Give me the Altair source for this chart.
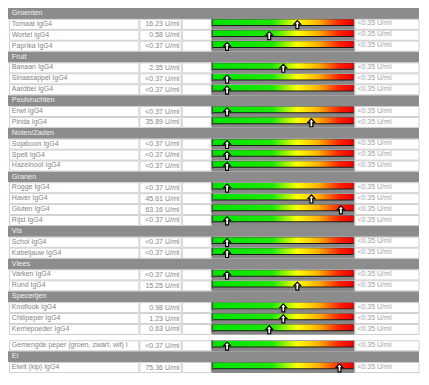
import altair as alt
import pandas as pd

# ---- data ----
group_names = ["Groenten", "Fruit", "Peulvruchten", "Noten/Zaden", "Granen",
               "Vis", "Vlees", "Specerijen", "", "Ei"]
group_sizes = [3, 3, 2, 3, 4, 2, 2, 3, 1, 1]
item_labels = ["Tomaat IgG4", "Wortel IgG4", "Paprika IgG4",
               "Banaan IgG4", "Sinaasappel IgG4", "Aardbei IgG4",
               "Erwt IgG4", "Pinda IgG4",
               "Sojaboon IgG4", "Spelt IgG4", "Hazelnoot IgG4",
               "Rogge IgG4", "Haver IgG4", "Gluten IgG4", "Rijst IgG4",
               "Schol IgG4", "Kabeljauw IgG4",
               "Varken IgG4", "Rund IgG4",
               "Knoflook IgG4", "Chilipeper IgG4", "Kerriepoeder IgG4",
               "Gemengde peper (groen, zwart, wit) I",
               "Eiwit (kip) IgG4"]
item_values = ["16.23 U/ml", "0.58 U/ml", "<0.37 U/ml",
               "2.35 U/ml", "<0.37 U/ml", "<0.37 U/ml",
               "<0.37 U/ml", "35.89 U/ml",
               "<0.37 U/ml", "<0.37 U/ml", "<0.37 U/ml",
               "<0.37 U/ml", "45.61 U/ml", "63.16 U/ml", "<0.37 U/ml",
               "<0.37 U/ml", "<0.37 U/ml",
               "<0.37 U/ml", "15.25 U/ml",
               "0.98 U/ml", "1.23 U/ml", "0.63 U/ml",
               "<0.37 U/ml",
               "75.36 U/ml"]
# pointer position on the colour bar (0 = left end, 100 = right end)
item_levels = [60, 40, 10,
               50, 10, 10,
               10, 70,
               10, 10, 10,
               10, 70, 91, 10,
               10, 10,
               10, 60,
               50, 50, 40,
               10,
               90]
ref_values = ["<0.35 U/ml"] * len(item_labels)

# ---- build table rows ----
headers, items = [], []
pos = 0.0
k = 0
for g, n in zip(group_names, group_sizes):
    if g:
        headers.append({"label": g, "top": pos})
        pos += 1
    else:
        pos += 0.5
    for _ in range(n):
        items.append({"label": item_labels[k], "value": item_values[k],
                      "level": item_levels[k], "ref": ref_values[k], "top": pos})
        pos += 1
        k += 1
TOTAL = pos

hdf = pd.DataFrame(headers)
idf = pd.DataFrame(items)

W, H = 411, 365
REFW = 427
XS = alt.Scale(domain=[0, REFW])
YS = alt.Scale(domain=[0, TOTAL], reverse=True)
FONT = "Liberation Sans"

def xd(v):
    return alt.XDatum(v, scale=XS, axis=None)

def x2d(v):
    return alt.X2Datum(v)

base_h = alt.Chart(hdf)
base_i = alt.Chart(idf)

header_rect = base_h.mark_rect(fill="#8c8c8c").transform_calculate(
    bot="datum.top + 1").encode(
    x=xd(0), x2=x2d(REFW),
    y=alt.Y("top:Q", scale=YS, axis=None), y2="bot:Q")

header_text = base_h.mark_text(align="left", baseline="middle", font=FONT,
                               fontSize=7.3, color="#f2f2f2").transform_calculate(
    mid="datum.top + 0.47").encode(
    x=xd(4), y=alt.Y("mid:Q", scale=YS, axis=None), text="label:N")

def cell(x0, x1, fill="white", stroke="#cfcfcf"):
    return base_i.mark_rect(fill=fill, stroke=stroke, strokeWidth=1).transform_calculate(
        t="datum.top + 0.04", b="datum.top + 0.96").encode(
        x=xd(x0), x2=x2d(x1),
        y=alt.Y("t:Q", scale=YS, axis=None), y2="b:Q")

name_cell = cell(1.5, 136)
value_cell = cell(137, 180)
blank_cell = cell(181, 211)
ref_cell = cell(360.5, 427)

bar_bg = base_i.mark_rect(fill="#888888").transform_calculate(
    bot="datum.top + 1").encode(
    x=xd(211.5), x2=x2d(360),
    y=alt.Y("top:Q", scale=YS, axis=None), y2="bot:Q")

bar_edge = base_i.mark_rect(fill="#4a4a4a").transform_calculate(
    t="datum.top", b="datum.top + 0.75").encode(
    x=xd(211.5), x2=x2d(213),
    y=alt.Y("t:Q", scale=YS, axis=None), y2="b:Q")

# colour bar and pointer use their own scale: 0..100 across the bar
r0, r1 = 213 * W / REFW, 359 * W / REFW
LS = alt.Scale(domain=[0, 100], range=[r0, r1])

grad = alt.LinearGradient(
    gradient="linear", x1=0, x2=1, y1=0, y2=0,
    stops=[alt.GradientStop(offset=0, color="#00e400"),
           alt.GradientStop(offset=0.42, color="#1ee800"),
           alt.GradientStop(offset=0.60, color="#ffff00"),
           alt.GradientStop(offset=0.75, color="#ffb000"),
           alt.GradientStop(offset=0.90, color="#ff2000"),
           alt.GradientStop(offset=1.0, color="#ee0000")])

bar_line = base_i.mark_rect(fill="#1a1a1a").transform_calculate(
    t="datum.top + 0.06", b="datum.top + 0.66").encode(
    x=alt.XDatum(0, scale=LS, axis=None), x2=alt.X2Datum(100),
    y=alt.Y("t:Q", scale=YS, axis=None), y2="b:Q")

bar_grad = base_i.mark_rect(fill=grad).transform_calculate(
    t="datum.top + 0.06", b="datum.top + 0.57").encode(
    x=alt.XDatum(0, scale=LS, axis=None), x2=alt.X2Datum(100),
    y=alt.Y("t:Q", scale=YS, axis=None), y2="b:Q")

arrow = "M0,-1L0.85,-0.1L0.36,-0.1L0.36,1L-0.36,1L-0.36,-0.1L-0.85,-0.1Z"
pointer = base_i.mark_point(shape=arrow, size=64, filled=True, fill="white",
                            stroke="black", strokeWidth=1.2, opacity=1).transform_calculate(
    mid="datum.top + 0.53").encode(
    x=alt.X("level:Q", scale=LS, axis=None),
    y=alt.Y("mid:Q", scale=YS, axis=None))

label_text = base_i.mark_text(align="left", baseline="middle", font=FONT,
                              fontSize=7, color="#858585").transform_calculate(
    mid="datum.top + 0.45").encode(
    x=xd(4), y=alt.Y("mid:Q", scale=YS, axis=None), text="label:N")

value_text = base_i.mark_text(align="right", baseline="middle", font=FONT,
                              fontSize=7, color="#858585").transform_calculate(
    mid="datum.top + 0.5").encode(
    x=xd(178), y=alt.Y("mid:Q", scale=YS, axis=None), text="value:N")

ref_text = base_i.mark_text(align="left", baseline="middle", font=FONT,
                            fontSize=7, color="#a0a0a0").transform_calculate(
    mid="datum.top + 0.42").encode(
    x=xd(363), y=alt.Y("mid:Q", scale=YS, axis=None), text="ref:N")

chart = alt.layer(
    header_rect, header_text,
    name_cell, value_cell, blank_cell, ref_cell,
    bar_bg, bar_edge, bar_line, bar_grad, pointer,
    label_text, value_text, ref_text
).resolve_scale(x="independent").properties(
    width=W, height=H, padding=0, background="white"
).configure_view(stroke=None)

chart.save("out.html", embed_options={"renderer": "svg", "actions": False})
